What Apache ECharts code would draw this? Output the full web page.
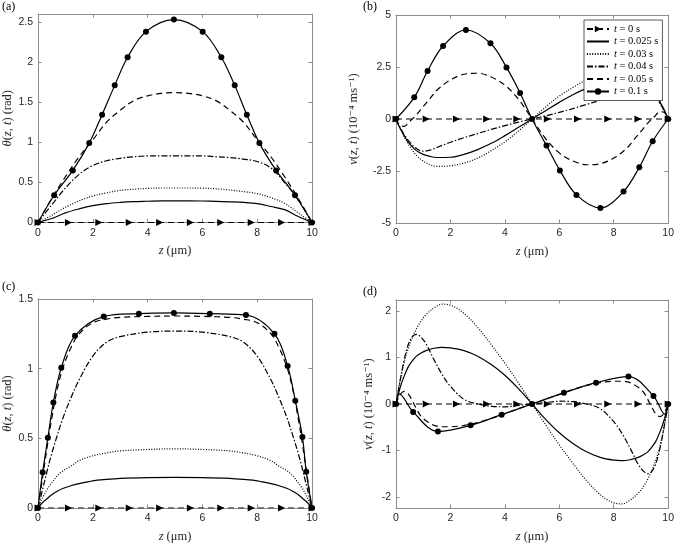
<!DOCTYPE html>
<html>
<head>
<meta charset="utf-8">
<title>theta and v profiles</title>
<script src="https://cdn.jsdelivr.net/npm/echarts@6/dist/echarts.min.js"></script>
<style>
    html, body { margin: 0; padding: 0; background: #fff; }
    #chart { width: 677px; height: 544px; }
</style>
</head>
<body>
<div id="chart"></div>
<script>
// Series names (legend order)
const seriesNames = ['t = 0 s', 't = 0.025 s', 't = 0.03 s', 't = 0.04 s', 't = 0.05 s', 't = 0.1 s'];

// t = 0 s: flat line with triangle markers (same in every panel)
const zT0 = [0, 1.11, 2.22, 3.33, 4.44, 5.56, 6.67, 7.78, 8.89, 10];
const valT0 = [0, 0, 0, 0, 0, 0, 0, 0, 0, 0];

// Panel (a): theta(z, t)
const zA = [0, 0.5, 1, 1.5, 2, 2.5, 3, 3.5, 4, 4.5, 5, 5.5, 6, 6.5, 7, 7.5, 8, 8.5, 9, 9.5, 10];
const thetaA025 = [0, 0.05, 0.12, 0.17, 0.21, 0.235, 0.25, 0.26, 0.265, 0.27, 0.27, 0.27, 0.268, 0.264, 0.258, 0.25, 0.235, 0.2, 0.16, 0.075, 0];
const thetaA03 = [0, 0.09, 0.19, 0.27, 0.33, 0.37, 0.4, 0.415, 0.425, 0.43, 0.43, 0.43, 0.428, 0.42, 0.405, 0.385, 0.36, 0.31, 0.24, 0.12, 0];
const thetaA04 = [0, 0.22, 0.43, 0.6, 0.71, 0.77, 0.8, 0.82, 0.83, 0.83, 0.83, 0.83, 0.83, 0.82, 0.81, 0.79, 0.76, 0.68, 0.5, 0.28, 0];
const thetaA05 = [0, 0.3, 0.57, 0.82, 1.03, 1.25, 1.4, 1.52, 1.58, 1.61, 1.62, 1.61, 1.58, 1.52, 1.4, 1.25, 1.03, 0.82, 0.57, 0.3, 0];
const zA01 = [0, 0.59, 1.27, 1.87, 2.34, 2.8, 3.27, 3.94, 4.96, 6.01, 6.69, 7.18, 7.62, 8.08, 8.69, 9.38, 10];
const thetaA01 = [0, 0.34, 0.65, 0.99, 1.345, 1.71, 2.06, 2.38, 2.53, 2.38, 2.06, 1.71, 1.345, 0.99, 0.65, 0.34, 0];

// Panel (b): v(z, t)
const zB = [0, 0.15, 0.3, 0.5, 0.75, 1, 1.25, 1.5, 2, 2.5, 3, 3.5, 4, 4.5, 5, 5.5, 6, 6.5, 7, 7.5, 8, 8.5, 8.75, 9, 9.25, 9.5, 9.7, 9.85, 10];
const vB025 = [0, -0.45, -0.8, -1.2, -1.52, -1.7, -1.8, -1.85, -1.84, -1.7, -1.47, -1.17, -0.8, -0.4, 0, 0.4, 0.8, 1.17, 1.47, 1.7, 1.84, 1.85, 1.8, 1.7, 1.52, 1.2, 0.8, 0.45, 0];
const vB03 = [0, -0.45, -0.85, -1.3, -1.75, -2.02, -2.2, -2.28, -2.25, -2.12, -1.88, -1.52, -1.1, -0.58, 0, 0.58, 1.1, 1.52, 1.88, 2.12, 2.25, 2.28, 2.2, 2.02, 1.75, 1.3, 0.85, 0.45, 0];
const vB04 = [0, -0.4, -0.75, -1.1, -1.42, -1.55, -1.5, -1.37, -1.12, -0.9, -0.7, -0.5, -0.32, -0.15, 0, 0.15, 0.32, 0.5, 0.7, 0.9, 1.12, 1.37, 1.5, 1.55, 1.42, 1.1, 0.75, 0.4, 0];
const vB05 = [0, -0.33, -0.35, -0.12, 0.2, 0.6, 0.98, 1.38, 1.88, 2.15, 2.2, 2.02, 1.63, 0.95, 0, -0.95, -1.63, -2.02, -2.2, -2.15, -1.88, -1.38, -0.98, -0.6, -0.2, 0.12, 0.35, 0.33, 0];
const zB01 = [0, 0.67, 1.16, 1.73, 2.57, 3.47, 4.06, 4.56, 5, 5.53, 6.02, 6.63, 7.51, 8.36, 8.94, 9.43, 10];
const vB01 = [0, 1.04, 2.31, 3.51, 4.28, 3.64, 2.48, 1.25, 0, -1.28, -2.47, -3.65, -4.28, -3.49, -2.32, -1.07, 0];

// Panel (c): theta(z, t)
const zC = [0, 0.1, 0.2, 0.35, 0.5, 0.7, 0.9, 1.2, 1.5, 2, 2.5, 3, 4, 5, 6, 7, 7.5, 8, 8.5, 8.8, 9.1, 9.3, 9.5, 9.65, 9.8, 9.9, 10];
const thetaC025 = [0, 0.025, 0.045, 0.07, 0.095, 0.12, 0.14, 0.16, 0.175, 0.195, 0.205, 0.212, 0.218, 0.22, 0.218, 0.212, 0.205, 0.195, 0.175, 0.16, 0.14, 0.12, 0.095, 0.07, 0.045, 0.025, 0];
const thetaC03 = [0, 0.045, 0.085, 0.14, 0.18, 0.23, 0.265, 0.3, 0.34, 0.375, 0.395, 0.41, 0.42, 0.425, 0.42, 0.41, 0.395, 0.375, 0.34, 0.3, 0.265, 0.23, 0.18, 0.14, 0.085, 0.045, 0];
const thetaC04 = [0, 0.08, 0.16, 0.28, 0.39, 0.52, 0.64, 0.79, 0.92, 1.09, 1.19, 1.23, 1.262, 1.27, 1.262, 1.23, 1.19, 1.09, 0.92, 0.79, 0.64, 0.52, 0.39, 0.28, 0.16, 0.08, 0];
const thetaC05 = [0, 0.13, 0.26, 0.46, 0.64, 0.85, 1.0, 1.15, 1.25, 1.33, 1.355, 1.368, 1.375, 1.378, 1.375, 1.368, 1.355, 1.33, 1.25, 1.15, 1.0, 0.85, 0.64, 0.46, 0.26, 0.13, 0];
const zC01 = [0, 0.17, 0.36, 0.56, 0.85, 1.35, 2.4, 3.68, 4.96, 6.27, 7.59, 8.63, 9.11, 9.39, 9.65, 9.79, 10];
const thetaC01 = [0, 0.257, 0.504, 0.757, 1.007, 1.236, 1.374, 1.395, 1.4, 1.395, 1.385, 1.25, 1.02, 0.77, 0.51, 0.26, 0];

// Panel (d): v(z, t)
const zD = [0, 0.15, 0.3, 0.45, 0.6, 0.75, 0.9, 1.1, 1.4, 1.7, 2, 2.5, 3, 3.5, 4, 4.5, 5, 5.5, 6, 6.5, 7, 7.5, 8, 8.3, 8.6, 8.9, 9.1, 9.25, 9.4, 9.55, 9.7, 9.85, 10];
const vD025 = [0, 0.35, 0.6, 0.8, 0.93, 1.03, 1.09, 1.15, 1.2, 1.22, 1.21, 1.15, 1.03, 0.85, 0.62, 0.33, 0, -0.33, -0.62, -0.85, -1.03, -1.15, -1.21, -1.22, -1.2, -1.15, -1.09, -1.03, -0.93, -0.8, -0.6, -0.35, 0];
const vD03 = [0, 0.5, 0.9, 1.2, 1.43, 1.62, 1.77, 1.92, 2.07, 2.15, 2.13, 1.95, 1.65, 1.28, 0.88, 0.45, 0, -0.45, -0.88, -1.28, -1.65, -1.95, -2.13, -2.15, -2.07, -1.92, -1.77, -1.62, -1.43, -1.2, -0.9, -0.5, 0];
const vD04 = [0, 0.5, 0.95, 1.28, 1.45, 1.5, 1.45, 1.3, 0.95, 0.63, 0.38, 0.1, 0, -0.05, -0.06, -0.03, 0, 0.03, 0.06, 0.05, 0, -0.1, -0.38, -0.63, -0.95, -1.3, -1.45, -1.5, -1.45, -1.28, -0.95, -0.5, 0];
const vD05 = [0, 0.2, 0.27, 0.22, 0.07, -0.1, -0.25, -0.36, -0.46, -0.49, -0.49, -0.46, -0.4, -0.31, -0.21, -0.1, 0, 0.1, 0.21, 0.31, 0.4, 0.46, 0.49, 0.49, 0.46, 0.36, 0.25, 0.1, -0.07, -0.22, -0.27, -0.2, 0];
const zD01 = [0, 0.12, 0.63, 1.54, 2.74, 3.88, 5, 6.17, 7.35, 8.54, 9.46, 9.88, 10];
const vD01 = [0, 0.22, -0.17, -0.59, -0.46, -0.23, 0, 0.24, 0.46, 0.59, 0.17, -0.22, 0];
const vD01NoMarker = [1, 11];

// Axis ranges per panel
const yRanges = [
    { min: 0, max: 2.6, interval: 0.5 },
    { min: -5, max: 5, interval: 2.5 },
    { min: 0, max: 1.5, interval: 0.5 },
    { min: -2.24, max: 2.24 }
];
const xTicks = { min: 0, max: 10, interval: 2 };

// Panel boxes in pixels
const grids = [
    { left: 37, top: 14, width: 275, height: 208.5 },
    { left: 396, top: 15, width: 274, height: 208 },
    { left: 37, top: 299, width: 275, height: 209.5 },
    { left: 396, top: 300, width: 274, height: 209 }
];

const SERIF = '"Liberation Serif", "DejaVu Serif", serif';
const SANS = '"Liberation Sans", Arial, sans-serif';
const TEXT = '#262626';

const styles = {
    't = 0 s': { type: [6, 4], symbol: 'triangle', symbolSize: 7, symbolRotate: -90 },
    't = 0.025 s': { type: 'solid', symbol: 'none' },
    't = 0.03 s': { type: [1, 1.6], symbol: 'none' },
    't = 0.04 s': { type: [6, 2, 1.5, 2], symbol: 'none' },
    't = 0.05 s': { type: [6, 4], symbol: 'none' },
    't = 0.1 s': { type: 'solid', symbol: 'circle', symbolSize: 6 }
};

function pairs(xs, ys, hidden) {
    return xs.map((x, i) => {
        if (hidden && hidden.indexOf(i) >= 0) {
            return { value: [x, ys[i]], symbol: 'none' };
        }
        return [x, ys[i]];
    });
}

function makeSeries(name, panel, xs, ys, hidden) {
    const st = styles[name];
    return {
        name: name,
        type: 'line',
        xAxisIndex: panel * 2,
        yAxisIndex: panel * 2,
        data: pairs(xs, ys, hidden),
        smooth: name === 't = 0 s' ? false : 0.35,
        symbol: st.symbol,
        symbolSize: st.symbolSize || 6,
        symbolRotate: st.symbolRotate || 0,
        showSymbol: st.symbol !== 'none',
        itemStyle: { color: '#000' },
        lineStyle: { color: '#000', width: 1.2, type: st.type },
        emphasis: { disabled: true },
        z: name === 't = 0.1 s' ? 5 : 3
    };
}

const axisCommon = {
    axisLine: { show: true, onZero: false, lineStyle: { color: '#8c8c8c', width: 1 } },
    axisTick: { show: true, inside: true, length: 3.5, lineStyle: { color: '#8c8c8c' } },
    splitLine: { show: false }
};

const xAxes = [];
const yAxes = [];
const yNames = [
    '{i|θ}({i|z}, {i|t}) (rad)',
    '{i|v}({i|z}, {i|t}) (10⁻⁴ ms⁻¹)',
    '{i|θ}({i|z}, {i|t}) (rad)',
    '{i|v}({i|z}, {i|t}) (10⁻⁴ ms⁻¹)'
];
const yNameGaps = [24, 36, 24, 21];
const richName = { i: { fontStyle: 'italic', fontFamily: SERIF, fontSize: 12.5, color: TEXT } };

grids.forEach((g, p) => {
    xAxes.push(Object.assign({
        type: 'value', gridIndex: p, position: 'bottom',
        min: xTicks.min, max: xTicks.max, interval: xTicks.interval,
        name: '{i|z} (μm)', nameLocation: 'middle', nameGap: 22,
        nameTextStyle: { fontFamily: SERIF, fontSize: 12.5, color: TEXT, rich: richName },
        axisLabel: { color: TEXT, fontFamily: SANS, fontSize: 10.5, margin: 5 }
    }, axisCommon));
    xAxes.push(Object.assign({
        type: 'value', gridIndex: p, position: 'top',
        min: xTicks.min, max: xTicks.max, interval: xTicks.interval,
        axisLabel: { show: false }
    }, axisCommon));

    const r = yRanges[p];
    yAxes.push(Object.assign({
        type: 'value', gridIndex: p, position: 'left',
        min: r.min, max: r.max, interval: r.interval,
        name: yNames[p], nameLocation: 'middle', nameGap: yNameGaps[p],
        nameTextStyle: { fontFamily: SERIF, fontSize: 12.5, color: TEXT, rich: richName },
        axisLabel: { color: TEXT, fontFamily: SANS, fontSize: 10.5, margin: 5,
            showMinLabel: p !== 3, showMaxLabel: p === 1 || p === 2 }
    }, axisCommon));
    yAxes.push(Object.assign({
        type: 'value', gridIndex: p, position: 'right',
        min: r.min, max: r.max, interval: r.interval,
        axisLabel: { show: false }
    }, axisCommon));
});

const series = [
    // (a)
    makeSeries('t = 0 s', 0, zT0, valT0),
    makeSeries('t = 0.025 s', 0, zA, thetaA025),
    makeSeries('t = 0.03 s', 0, zA, thetaA03),
    makeSeries('t = 0.04 s', 0, zA, thetaA04),
    makeSeries('t = 0.05 s', 0, zA, thetaA05),
    makeSeries('t = 0.1 s', 0, zA01, thetaA01),
    // (b)
    makeSeries('t = 0 s', 1, zT0, valT0),
    makeSeries('t = 0.025 s', 1, zB, vB025),
    makeSeries('t = 0.03 s', 1, zB, vB03),
    makeSeries('t = 0.04 s', 1, zB, vB04),
    makeSeries('t = 0.05 s', 1, zB, vB05),
    makeSeries('t = 0.1 s', 1, zB01, vB01),
    // (c)
    makeSeries('t = 0 s', 2, zT0, valT0),
    makeSeries('t = 0.025 s', 2, zC, thetaC025),
    makeSeries('t = 0.03 s', 2, zC, thetaC03),
    makeSeries('t = 0.04 s', 2, zC, thetaC04),
    makeSeries('t = 0.05 s', 2, zC, thetaC05),
    makeSeries('t = 0.1 s', 2, zC01, thetaC01),
    // (d)
    makeSeries('t = 0 s', 3, zT0, valT0),
    makeSeries('t = 0.025 s', 3, zD, vD025),
    makeSeries('t = 0.03 s', 3, zD, vD03),
    makeSeries('t = 0.04 s', 3, zD, vD04),
    makeSeries('t = 0.05 s', 3, zD, vD05),
    makeSeries('t = 0.1 s', 3, zD01, vD01, vD01NoMarker)
];

// legend entries: hide the marker for the plain line styles
const legendData = seriesNames.map(name => {
    if (styles[name].symbol === 'none') {
        return { name: name, itemStyle: { opacity: 0 } };
    }
    return { name: name };
});

const panelLabels = [
    { text: '(a)', left: 2, top: 1 },
    { text: '(b)', left: 363, top: 1 },
    { text: '(c)', left: 2, top: 281 },
    { text: '(d)', left: 363, top: 286 }
];

const chart = echarts.init(document.getElementById('chart'), null, { renderer: 'canvas' });

chart.setOption({
    animation: false,
    backgroundColor: '#fff',
    grid: grids.map(g => Object.assign({ containLabel: false }, g)),
    xAxis: xAxes,
    yAxis: yAxes,
    legend: {
        data: legendData,
        orient: 'vertical',
        left: 584,
        top: 20,
        width: 80,
        itemWidth: 22,
        itemHeight: 8,
        itemGap: 0.5,
        padding: [3, 4, 3, 2],
        backgroundColor: '#fff',
        borderColor: '#333',
        borderWidth: 0.8,
        borderRadius: 0,
        selectedMode: false,
        formatter: name => '{i|t}' + name.slice(1),
        textStyle: {
            fontFamily: SERIF, fontSize: 10.5, color: '#000', lineHeight: 12,
            rich: { i: { fontStyle: 'italic', fontFamily: SERIF, fontSize: 10.5, color: '#000' } }
        }
    },
    graphic: panelLabels.map(l => ({
        type: 'text',
        left: l.left,
        top: l.top,
        style: { text: l.text, font: '12px ' + SERIF, fill: '#000' }
    })),
    series: series
});
</script>
</body>
</html>
